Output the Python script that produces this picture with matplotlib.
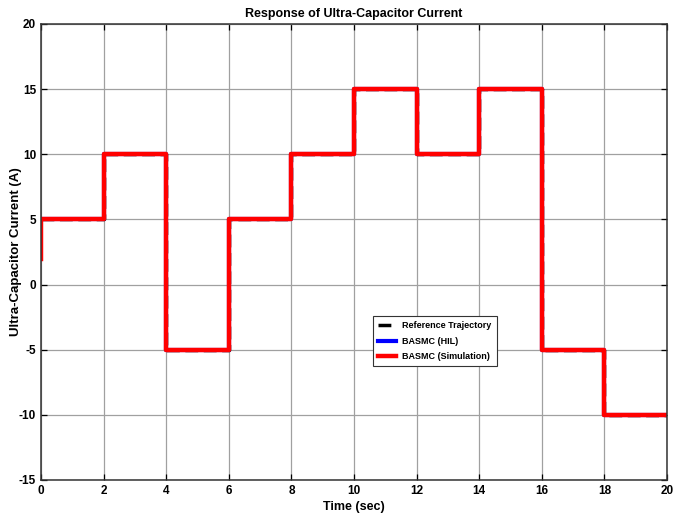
import matplotlib
matplotlib.use("Agg")
import matplotlib.pyplot as plt
from matplotlib import font_manager

names = {f.name for f in font_manager.fontManager.ttflist}
fam = ["Liberation Sans Narrow", "Liberation Sans", "DejaVu Sans"]
fam = [f for f in fam if f in names] or ["DejaVu Sans"]
plt.rcParams["font.family"] = fam
plt.rcParams["font.weight"] = "bold"
plt.rcParams["axes.unicode_minus"] = False

# Reference current setpoints, held for 2 s each
edges = [0, 2, 4, 6, 8, 10, 12, 14, 16, 18, 20]
levels = [5, 10, -5, 5, 10, 15, 10, 15, -5, -10]
sim_start = 2.0  # simulated current at t = 0

def staircase(edges, levels):
    t, y = [], []
    for i, lv in enumerate(levels):
        t += [edges[i], edges[i + 1]]
        y += [lv, lv]
    return t, y

t_ref, y_ref = staircase(edges, levels)
t_sim, y_sim = [0.0] + t_ref, [sim_start] + y_ref

fig = plt.figure(figsize=(6.75, 5.24), dpi=100)
ax = fig.add_axes([41 / 675, 1 - 480 / 524, 626 / 675, 456 / 524])

ax.plot(t_ref, y_ref, color="black", lw=2.5, ls="--", label="Reference Trajectory")
ax.plot(t_ref, y_ref, color="#0000ff", lw=3, label="BASMC (HIL)")
ax.plot(t_sim, y_sim, color="#ff0000", lw=3.2, label="BASMC (Simulation)")

ax.set_xlim(0, 20)
ax.set_ylim(-15, 20)
ax.set_xticks(range(0, 21, 2))
ax.set_yticks(range(-15, 21, 5))
ax.grid(True, color="#a0a0a0", lw=0.9)
ax.tick_params(direction="in", top=True, right=True, labelsize=8.5, length=4, width=0.9)
for lab in ax.get_xticklabels() + ax.get_yticklabels():
    lab.set_fontweight("bold")
for s in ax.spines.values():
    s.set_color("#333333")
    s.set_linewidth(1.1)

ax.set_title("Response of Ultra-Capacitor Current", fontsize=9, fontweight="bold", pad=5)
ax.set_xlabel("Time (sec)", fontsize=9, fontweight="bold", labelpad=3)
ax.set_ylabel("Ultra-Capacitor Current (A)", fontsize=9.5, fontweight="bold")
ax.yaxis.set_label_coords(-0.030, 0.5)

leg = ax.legend(loc="upper left", bbox_to_anchor=((373 - 41) / 626, (480 - 316) / 456),
                borderaxespad=0, fontsize=6.5, frameon=True, fancybox=False, framealpha=1,
                edgecolor="#333333", handlelength=2.0, borderpad=0.6, labelspacing=0.7,
                handletextpad=0.6)
leg.get_frame().set_linewidth(0.8)
for txt in leg.get_texts():
    txt.set_fontweight("bold")

fig.savefig("out.png", dpi=100)
